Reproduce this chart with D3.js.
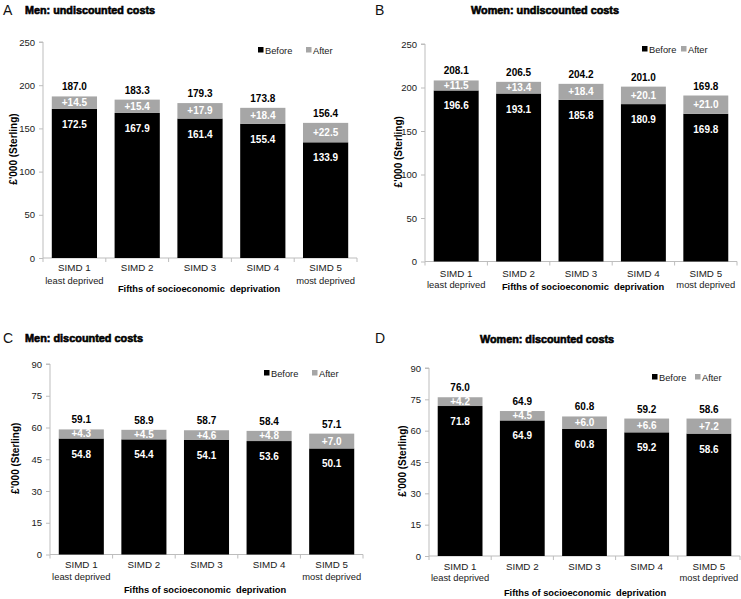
<!DOCTYPE html>
<html><head><meta charset="utf-8">
<script src="https://cdn.jsdelivr.net/npm/d3@7"></script>
<style>
body{margin:0;background:#fff;}
svg{display:block;font-family:"Liberation Sans",Arial,sans-serif;}
</style></head>
<body><svg id="c" width="741" height="599"></svg>
<script>
// ---- data ----
const categories = ["SIMD 1", "SIMD 2", "SIMD 3", "SIMD 4", "SIMD 5"];
const categorySub = ["least deprived", "", "", "", "most deprived"];
const seriesNames = ["Before", "After"];

const menUndiscBefore = [172.5, 167.9, 161.4, 155.4, 133.9];
const menUndiscAfter  = [14.5, 15.4, 17.9, 18.4, 22.5];
const menUndiscTotalLabels = ["187.0", "183.3", "179.3", "173.8", "156.4"];

const womenUndiscBefore = [196.6, 193.1, 185.8, 180.9, 169.8];
const womenUndiscAfter  = [11.5, 13.4, 18.4, 20.1, 21.0];
const womenUndiscTotalLabels = ["208.1", "206.5", "204.2", "201.0", "169.8"];

const menDiscBefore = [54.8, 54.4, 54.1, 53.6, 50.1];
const menDiscAfter  = [4.3, 4.5, 4.6, 4.8, 7.0];
const menDiscTotalLabels = ["59.1", "58.9", "58.7", "58.4", "57.1"];

const womenDiscBefore = [71.8, 64.9, 60.8, 59.2, 58.6];
const womenDiscAfter  = [4.2, 4.5, 6.0, 6.6, 7.2];
const womenDiscTotalLabels = ["76.0", "64.9", "60.8", "59.2", "58.6"];

const undiscTicks = [0, 50, 100, 150, 200, 250];
const discTicks = [0, 15, 30, 45, 60, 75, 90];

const yLabel = "£'000 (Sterling)";
const xLabel = "Fifths of socioeconomic  deprivation";

// ---- layout ----
const panels = [
  {letter:"A", title:"Men: undiscounted costs", before:menUndiscBefore, after:menUndiscAfter, totals:menUndiscTotalLabels, ticks:undiscTicks,
   letterX:3, letterY:15, titleX:25, titleAnchor:"start", titleY:14, titleW:130,
   x0:43, x1:357, yTop:42, yBot:258, yLabX:17, legX:258, legGap:48, legY:50, xTitleX:199, xTitleY:292, cat1Y:271, cat2Y:284},
  {letter:"B", title:"Women: undiscounted costs", before:womenUndiscBefore, after:womenUndiscAfter, totals:womenUndiscTotalLabels, ticks:undiscTicks,
   letterX:375, letterY:15, titleX:545, titleAnchor:"middle", titleY:14, titleW:148,
   x0:425, x1:737, yTop:44, yBot:261.5, yLabX:402, legX:642, legGap:39, legY:49, xTitleX:583, xTitleY:290, cat1Y:277, cat2Y:288},
  {letter:"C", title:"Men: discounted costs", before:menDiscBefore, after:menDiscAfter, totals:menDiscTotalLabels, ticks:discTicks,
   letterX:3, letterY:343, titleX:25, titleAnchor:"start", titleY:342, titleW:118,
   x0:50, x1:363, yTop:364, yBot:554.5, yLabX:19, legX:264, legGap:48, legY:373, xTitleX:205, xTitleY:593, cat1Y:568, cat2Y:580},
  {letter:"D", title:"Women: discounted costs", before:womenDiscBefore, after:womenDiscAfter, totals:womenDiscTotalLabels, ticks:discTicks,
   letterX:375, letterY:343, titleX:547, titleAnchor:"middle", titleY:343, titleW:134,
   x0:429, x1:740, yTop:368, yBot:556, yLabX:406, legX:652, legGap:43, legY:377, xTitleX:585, xTitleY:596, cat1Y:570, cat2Y:581}
];

const colBefore = "#000000", colAfter = "#a6a6a6", axisCol = "#bdbdbd", textCol = "#1a1a1a";
const svg = d3.select("#c");

panels.forEach(p => {
  const g = svg.append("g");
  const yMax = d3.max(p.ticks);
  const y = d3.scaleLinear().domain([0, yMax]).range([p.yBot, p.yTop]);
  const x = d3.scaleBand().domain(categories).range([p.x0, p.x1]).paddingInner(0.28).paddingOuter(0.14);

  // letter and title
  g.append("text").attr("x", p.letterX).attr("y", p.letterY).attr("font-size", 14).attr("fill", "#111").text(p.letter);
  g.append("text").attr("x", p.titleX).attr("y", p.titleY).attr("text-anchor", p.titleAnchor)
    .attr("font-size", 10.8).attr("font-weight", "bold").attr("fill", "#000").attr("stroke", "#000").attr("stroke-width", 0.6)
    .attr("textLength", p.titleW).attr("lengthAdjust", "spacingAndGlyphs")
    .text(p.title);

  // y axis
  const ya = g.append("g").attr("transform", `translate(${p.x0},0)`)
    .call(d3.axisLeft(y).tickValues(p.ticks).tickSize(4).tickPadding(4));
  ya.select(".domain").attr("stroke", axisCol).attr("d", `M-4,${p.yTop}H0V${p.yBot}`);
  ya.selectAll(".tick line").attr("stroke", axisCol);
  ya.selectAll(".tick text").attr("font-size", 9.5).attr("fill", textCol).attr("font-family", "Liberation Sans, Arial, sans-serif");

  // x axis: line with ticks at band boundaries
  const bounds = categories.map(c => x(c) - x.step() * x.paddingInner() / 2).concat([p.x1]);
  g.append("line").attr("x1", p.x0).attr("x2", p.x1).attr("y1", p.yBot).attr("y2", p.yBot).attr("stroke", axisCol);
  g.selectAll(".xt").data(bounds).enter().append("line")
    .attr("x1", d => d).attr("x2", d => d).attr("y1", p.yBot).attr("y2", p.yBot + 4).attr("stroke", axisCol);

  // bars
  const rows = categories.map((c, i) => ({c, b: p.before[i], a: p.after[i], t: p.totals[i]}));
  g.selectAll(".bb").data(rows).enter().append("rect")
    .attr("x", d => x(d.c)).attr("width", x.bandwidth())
    .attr("y", d => y(d.b)).attr("height", d => y(0) - y(d.b)).attr("fill", colBefore);
  g.selectAll(".ba").data(rows).enter().append("rect")
    .attr("x", d => x(d.c)).attr("width", x.bandwidth())
    .attr("y", d => y(d.b + d.a)).attr("height", d => y(d.b) - y(d.b + d.a)).attr("fill", colAfter);

  // labels
  const cx = d => x(d.c) + x.bandwidth() / 2;
  g.selectAll(".lt").data(rows).enter().append("text")
    .attr("x", cx).attr("y", d => y(d.b + d.a) - 6).attr("text-anchor", "middle")
    .attr("font-size", 10).attr("font-weight", "bold").attr("fill", "#000").text(d => d.t);
  g.selectAll(".la").data(rows).enter().append("text")
    .attr("x", cx).attr("y", d => (y(d.b) + y(d.b + d.a)) / 2 + 3.5).attr("text-anchor", "middle")
    .attr("font-size", 10).attr("font-weight", "bold").attr("fill", "#fff").text(d => "+" + d.a.toFixed(1));
  g.selectAll(".lb").data(rows).enter().append("text")
    .attr("x", cx).attr("y", d => y(d.b) + 19).attr("text-anchor", "middle")
    .attr("font-size", 10).attr("font-weight", "bold").attr("fill", "#fff").text(d => d.b.toFixed(1));

  // category labels
  g.selectAll(".c1").data(categories).enter().append("text")
    .attr("x", c => x(c) + x.bandwidth() / 2).attr("y", p.cat1Y).attr("text-anchor", "middle")
    .attr("font-size", 9.8).attr("fill", textCol).text(c => c);
  g.selectAll(".c2").data(categories.map((c, i) => ({c, s: categorySub[i]}))).enter().append("text")
    .attr("x", d => x(d.c) + x.bandwidth() / 2).attr("y", p.cat2Y).attr("text-anchor", "middle")
    .attr("font-size", 9.4).attr("fill", textCol).text(d => d.s);

  // axis titles
  g.append("text").attr("x", p.xTitleX).attr("y", p.xTitleY).attr("text-anchor", "middle")
    .attr("font-size", 9.3).attr("font-weight", "bold").attr("fill", "#000").style("white-space", "pre").text(xLabel);
  g.append("text").attr("transform", `translate(${p.yLabX},${(p.yTop + p.yBot) / 2 - 1}) rotate(-90)`)
    .attr("text-anchor", "middle").attr("font-size", 10).attr("font-weight", "bold").attr("fill", "#000").text(yLabel);

  // legend
  const lg = g.append("g").attr("transform", `translate(${p.legX},${p.legY})`);
  lg.append("rect").attr("x", 0).attr("y", -3).attr("width", 5.5).attr("height", 5.5).attr("fill", colBefore);
  lg.append("text").attr("x", 7).attr("y", 3.5).attr("font-size", 9.3).attr("fill", textCol).text(seriesNames[0]);
  lg.append("rect").attr("x", p.legGap).attr("y", -3).attr("width", 5.5).attr("height", 5.5).attr("fill", colAfter);
  lg.append("text").attr("x", p.legGap + 7).attr("y", 3.5).attr("font-size", 9.3).attr("fill", textCol).text(seriesNames[1]);
});
</script></body></html>
